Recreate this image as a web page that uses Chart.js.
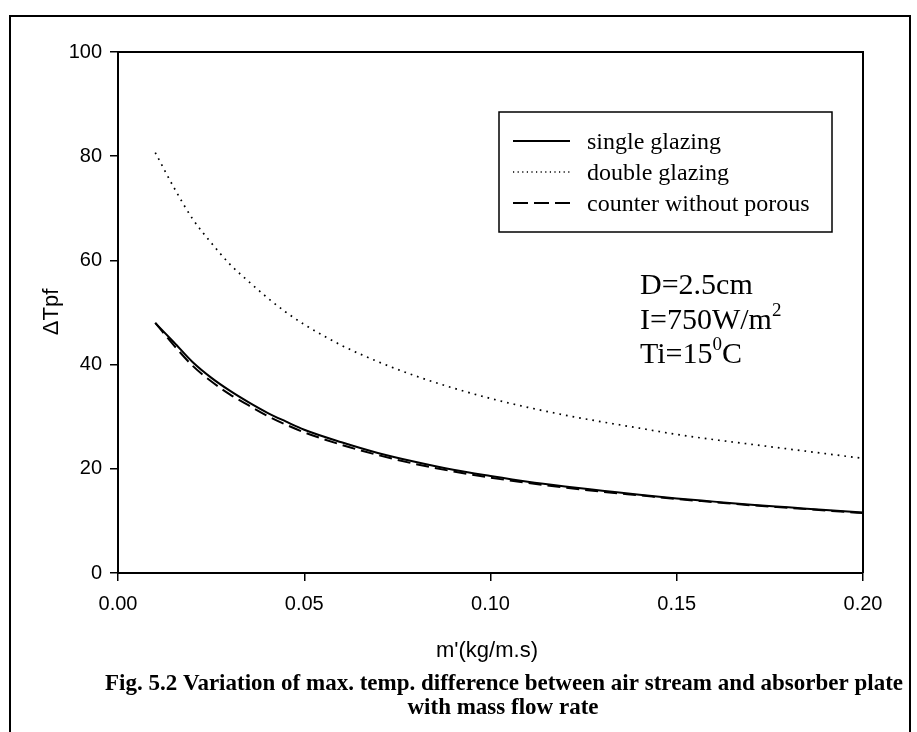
<!DOCTYPE html>
<html>
<head>
<meta charset="utf-8">
<script src="https://cdn.jsdelivr.net/npm/chart.js@4/dist/chart.umd.min.js"></script>
<style>
  html, body { margin: 0; padding: 0; background: #fff; }
  #wrap { position: relative; width: 917px; height: 732px; overflow: hidden; }
  #frame { position: absolute; left: 9px; top: 15px; width: 902px; height: 760px; border: 2px solid #000; box-sizing: border-box; pointer-events: none; }
  canvas { position: absolute; left: 0; top: 0; }
</style>
</head>
<body>
<div id="wrap">
  <canvas id="c" width="917" height="732"></canvas>
  <div id="frame"></div>
</div>
<script>
// ---- data ----
const massFlow = [0.01, 0.015, 0.02, 0.025, 0.03, 0.035, 0.04, 0.045, 0.05, 0.06, 0.07, 0.08, 0.09, 0.10, 0.11, 0.12, 0.13, 0.14, 0.15, 0.16, 0.17, 0.18, 0.19, 0.20];
const singleGlazing = [48.0, 44.3, 40.5, 37.5, 35.0, 32.8, 30.8, 29.1, 27.5, 25.1, 23.0, 21.3, 19.8, 18.6, 17.5, 16.6, 15.8, 15.0, 14.3, 13.7, 13.1, 12.6, 12.1, 11.6];
const doubleGlazing = [80.7, 74.0, 68.0, 63.4, 59.3, 56.0, 52.9, 50.1, 47.7, 43.7, 40.5, 37.8, 35.5, 33.5, 31.8, 30.3, 29.0, 27.8, 26.6, 25.6, 24.7, 23.8, 22.9, 22.0];
const counterNoPorous = [48.0, 43.7, 39.8, 36.8, 34.3, 32.2, 30.2, 28.5, 27.0, 24.6, 22.6, 20.9, 19.5, 18.3, 17.3, 16.4, 15.6, 14.9, 14.2, 13.6, 13.0, 12.5, 12.0, 11.5];
const seriesLabels = ['single glazing', 'double glazing', 'counter without porous'];
const xTicks = [0.00, 0.05, 0.10, 0.15, 0.20];
const yTicks = [0, 20, 40, 60, 80, 100];
const xTitle = "m'(kg/m.s)";
const yTitle = "\u0394Tpf";
const captionLines = ["Fig. 5.2 Variation of max. temp. difference between air stream and absorber plate", "with mass flow rate"];

const pts = ys => massFlow.map((x, i) => ({ x: x, y: ys[i] }));

const SANS = "'Liberation Sans', Arial, sans-serif";
const SERIF = "'Liberation Serif', 'Times New Roman', serif";

const decorPlugin = {
  id: 'decor',
  afterDraw(chart) {
    const ctx = chart.ctx;
    const a = chart.chartArea;
    ctx.save();
    // plot frame (top and right edges)
    ctx.strokeStyle = '#000';
    ctx.lineWidth = 2;
    ctx.beginPath();
    ctx.moveTo(a.left, a.top);
    ctx.lineTo(a.right, a.top);
    ctx.lineTo(a.right, a.bottom);
    ctx.stroke();

    // legend
    const lx = 499, ly = 112, lw = 333, lh = 120;
    ctx.lineWidth = 1.5;
    ctx.strokeRect(lx, ly, lw, lh);
    const rowY = [141, 172, 203];
    chart.data.datasets.forEach((ds, i) => {
      ctx.save();
      ctx.strokeStyle = '#000';
      ctx.lineWidth = ds.borderWidth;
      ctx.setLineDash(ds.legendDash || ds.borderDash || []);
      ctx.beginPath();
      ctx.moveTo(513, rowY[i]);
      ctx.lineTo(570, rowY[i]);
      ctx.stroke();
      ctx.restore();
      ctx.fillStyle = '#000';
      ctx.font = '24px ' + SERIF;
      ctx.textBaseline = 'alphabetic';
      ctx.textAlign = 'left';
      ctx.fillText(ds.label, 587, rowY[i] + 8);
    });

    // annotation
    ctx.fillStyle = '#000';
    ctx.textAlign = 'left';
    ctx.font = '30px ' + SERIF;
    ctx.fillText('D=2.5cm', 640, 294);
    let t = 'I=750W/m';
    ctx.fillText(t, 640, 329);
    let w = ctx.measureText(t).width;
    ctx.font = '19px ' + SERIF;
    ctx.fillText('2', 640 + w, 316);
    ctx.font = '30px ' + SERIF;
    t = 'Ti=15';
    ctx.fillText(t, 640, 363);
    w = ctx.measureText(t).width;
    ctx.font = '19px ' + SERIF;
    ctx.fillText('0', 640 + w, 350);
    const w0 = ctx.measureText('0').width;
    ctx.font = '30px ' + SERIF;
    ctx.fillText('C', 640 + w + w0, 363);

    // axis titles
    ctx.font = '22px ' + SANS;
    ctx.textAlign = 'center';
    ctx.fillText(xTitle, 487, 657);
    ctx.save();
    ctx.translate(52, 312);
    ctx.rotate(-Math.PI / 2);
    ctx.textBaseline = 'middle';
    ctx.fillText(yTitle, 0, 0);
    ctx.restore();

    // caption
    ctx.font = 'bold 23px ' + SERIF;
    ctx.textAlign = 'center';
    ctx.textBaseline = 'alphabetic';
    ctx.fillText(captionLines[0], 504, 690);
    ctx.fillText(captionLines[1], 503, 714);
    ctx.restore();
  }
};

new Chart(document.getElementById('c'), {
  type: 'scatter',
  data: {
    datasets: [
      { label: seriesLabels[0], data: pts(singleGlazing), showLine: true, borderColor: '#000', borderWidth: 2, pointRadius: 0, cubicInterpolationMode: 'monotone' },
      { label: seriesLabels[1], data: pts(doubleGlazing), showLine: true, borderColor: '#000', borderWidth: 1.7, borderDash: [1.7, 5], legendDash: [1.2, 3.4], pointRadius: 0, cubicInterpolationMode: 'monotone' },
      { label: seriesLabels[2], data: pts(counterNoPorous), showLine: true, borderColor: '#000', borderWidth: 2, borderDash: [13, 6], legendDash: [15, 6], pointRadius: 0, cubicInterpolationMode: 'monotone' }
    ]
  },
  options: {
    responsive: false,
    animation: false,
    devicePixelRatio: 1,
    layout: { padding: { left: 0, right: 54, top: 52, bottom: 119 } },
    plugins: { legend: { display: false }, tooltip: { enabled: false }, title: { display: false } },
    scales: {
      x: {
        type: 'linear', min: 0, max: 0.2,
        afterFit: s => { s.height = 40; },
        afterBuildTicks: s => { s.ticks = xTicks.map(v => ({ value: v })); },
        border: { display: true, color: '#000', width: 2 },
        grid: { drawOnChartArea: false, drawTicks: true, tickLength: 8, color: '#000', lineWidth: 1.5 },
        ticks: { color: '#000', padding: 11, font: { family: SANS, size: 20 }, callback: v => v.toFixed(2), maxRotation: 0 }
      },
      y: {
        type: 'linear', min: 0, max: 100,
        afterFit: s => { s.width = 118; },
        afterBuildTicks: s => { s.ticks = yTicks.map(v => ({ value: v })); },
        border: { display: true, color: '#000', width: 2 },
        grid: { drawOnChartArea: false, drawTicks: true, tickLength: 8, color: '#000', lineWidth: 1.5 },
        ticks: { color: '#000', padding: 8, font: { family: SANS, size: 20 }, callback: v => String(v) }
      }
    }
  },
  plugins: [decorPlugin]
});
</script>
</body>
</html>
